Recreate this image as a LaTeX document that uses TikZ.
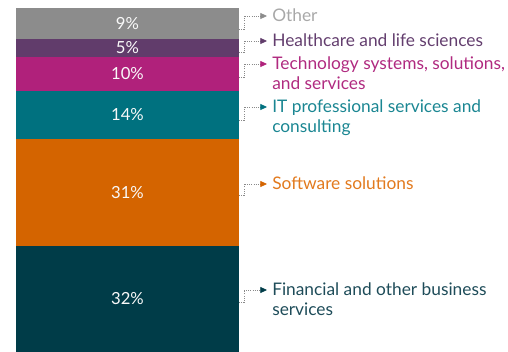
\documentclass[tikz,border=0pt]{standalone}
\usepackage{fontspec}
\setmainfont{Lato}
\usetikzlibrary{arrows.meta}
\definecolor{cOther}{HTML}{8C8C8C}
\definecolor{cHealth}{HTML}{613C6B}
\definecolor{cTech}{HTML}{B0217B}
\definecolor{cIT}{HTML}{00717F}
\definecolor{cSoft}{HTML}{D46400}
\definecolor{cFin}{HTML}{003C48}
\definecolor{tOther}{HTML}{A8A8A8}
\definecolor{tHealth}{HTML}{633E6E}
\definecolor{tTech}{HTML}{B02A80}
\definecolor{tIT}{HTML}{1A8692}
\definecolor{tSoft}{HTML}{E27A1E}
\definecolor{tFin}{HTML}{1E4C59}
\definecolor{conn}{HTML}{8A8A8A}
\begin{document}
\begin{tikzpicture}[x=0.75pt,y=-0.75pt,
  seg/.style={fill=#1, draw=none, minimum width=223*0.75pt, inner sep=0pt, outer sep=0pt,
     text=white!95!gray, font=\fontsize{12.5}{14}\selectfont},
  lbl/.style={anchor=base west, align=left, inner sep=0pt, text=#1,
     font=\fontsize{13}{15}\selectfont},
  connector/.style={draw=conn, densely dotted, line width=0.6pt,
     -{Triangle[length=5pt,width=4.5pt,fill=#1,color=#1]}}]
\useasboundingbox (0,0) rectangle (508,352);
% bar segments
\node[seg=cOther, minimum height=31*0.75pt] (s1) at (127.5,23.5) {9\%};
\node[seg=cHealth, minimum height=18*0.75pt] (s2) at (127.5,48) {5\%};
\node[seg=cTech, minimum height=34*0.75pt] (s3) at (127.5,74) {10\%};
\node[seg=cIT, minimum height=48*0.75pt] (s4) at (127.5,115) {14\%};
\node[seg=cSoft, minimum height=107*0.75pt] (s5) at (127.5,192.5) {31\%};
\node[seg=cFin, minimum height=106*0.75pt] (s6) at (127.5,299) {32\%};
% labels (base anchor = baseline of last line)
\node[lbl=tOther] (l1) at (272,21.5) {Other};
\node[lbl=tHealth] (l2) at (272,46.5) {Healthcare and life sciences};
\node[lbl=tTech] (l3) at (272,89.5) {Technology systems, solutions,\\and services};
\node[lbl=tIT] (l4) at (272,132.5) {IT professional services and\\consulting};
\node[lbl=tSoft] (l5) at (272,189.5) {Software solutions};
\node[lbl=tFin] (l6) at (272,315.5) {Financial and other business\\services};
% connector ends
\coordinate (a1) at (239,29); \coordinate (b1) at (267,16);
\coordinate (a2) at (239,52); \coordinate (b2) at (267,41);
\coordinate (a3) at (239,77); \coordinate (b3) at (267,64);
\coordinate (a4) at (239,120); \coordinate (b4) at (267,107);
\coordinate (a5) at (239,195); \coordinate (b5) at (267,184);
\coordinate (a6) at (239,302); \coordinate (b6) at (267,290);
\draw[connector=cOther] (a1) -- ++(5,0) |- (b1);
\draw[connector=cHealth] (a2) -- ++(5,0) |- (b2);
\draw[connector=cTech] (a3) -- ++(5,0) |- (b3);
\draw[connector=cIT] (a4) -- ++(5,0) |- (b4);
\draw[connector=cSoft] (a5) -- ++(5,0) |- (b5);
\draw[connector=cFin] (a6) -- ++(5,0) |- (b6);
\end{tikzpicture}
\end{document}
